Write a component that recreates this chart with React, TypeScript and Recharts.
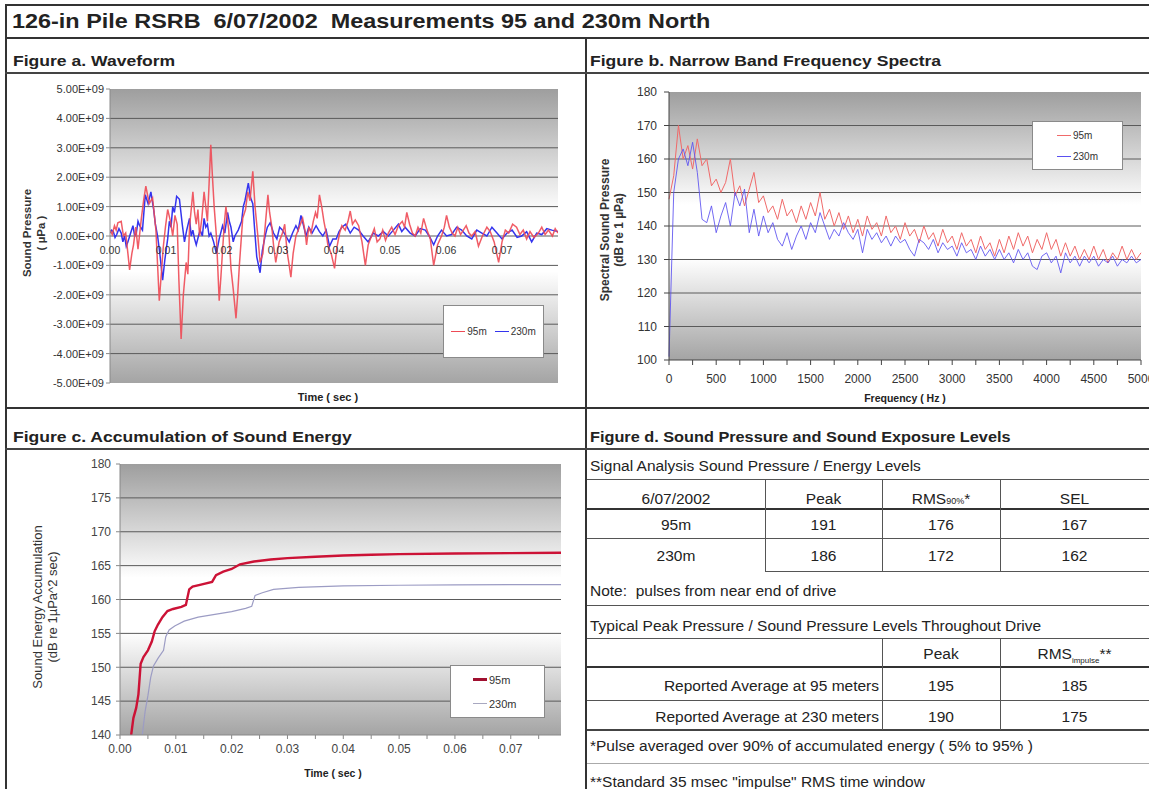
import React from 'react';
import { LineChart, Line, XAxis, YAxis, CartesianGrid, ReferenceDot } from 'recharts';

const FONT = '"Liberation Sans", Arial, Helvetica, sans-serif';

// Figure a. Waveform — [time ms, sound pressure x 1E+09 µPa]
const WAVE_95M: [number, number][] = [
  [0, 0.2], [0.4, 0.05], [0.8, 0.35], [1.1, 0.2], [1.4, 0.45], [2.0, 0.5], [2.4, 0.0], [2.8, 0.1],
  [3.2, -0.6], [3.5, -1.15], [3.9, -0.6], [4.2, -0.3], [4.6, 0.3], [5.0, -0.45], [5.6, 0.6], [6.0, 1.2],
  [6.4, 1.7], [7.0, 1.1], [7.6, 1.3], [8.2, 0.2], [8.5, -1.0], [8.8, -2.2], [9.2, -1.2], [9.5, -0.4],
  [9.9, 0.3], [10.3, 0.9], [10.8, 0.5], [11.2, 0.0], [11.6, 0.7], [12.0, 0.4], [12.3, -1.5], [12.7, -3.5],
  [13.1, -2.0], [13.6, -0.9], [13.9, -1.3], [14.2, 0.3], [14.8, 1.5], [15.1, 0.8], [15.4, 0.4], [15.7, 0.9],
  [16.0, 0.0], [16.4, 0.6], [16.8, 1.5], [17.4, 0.5], [17.7, 1.8], [18.0, 3.1], [18.3, 2.0], [18.6, 1.0],
  [19.0, 0.0], [19.5, -2.2], [19.8, -1.4], [20.1, -0.5], [20.4, 0.4], [20.7, 1.0], [21.2, 0.2], [21.6, -1.1],
  [22.0, -1.8], [22.5, -2.8], [22.8, -2.0], [23.1, -1.0], [23.4, -0.2], [23.7, 0.6], [24.2, 0.9], [24.6, 1.5],
  [25.0, 1.2], [25.5, 2.2], [25.9, 1.0], [26.4, 0.0], [26.8, -0.9], [27.3, -0.6], [27.7, 0.3], [28.2, 1.4],
  [28.5, 0.8], [28.9, 0.3], [29.2, -0.3], [29.6, -0.9], [30.2, -0.2], [30.8, 0.1], [31.2, 0.4], [31.6, -0.5],
  [32.0, -1.0], [32.3, -1.4], [32.7, -0.6], [33.2, 0.0], [33.8, 0.3], [34.4, 0.6], [34.8, 0.2], [35.1, -0.3],
  [35.5, 0.3], [35.9, 0.1], [36.3, 0.5], [36.7, 0.8], [37.0, 0.6], [37.4, 1.4], [37.8, 1.0], [38.2, 0.5],
  [38.6, 0.1], [38.9, -0.3], [39.5, -0.6], [40.1, -1.1], [40.5, -0.4], [41.0, 0.1], [41.4, 0.35], [42.0, 0.2],
  [42.5, 0.5], [42.9, 0.85], [43.3, 0.4], [43.8, 0.55], [44.4, 0.35], [45.0, -0.2], [45.6, -1.0], [46.1, -0.3],
  [46.7, 0.0], [47.2, 0.25], [47.7, -0.2], [48.2, -0.1], [48.7, 0.2], [49.2, -0.15], [49.7, 0.1], [50.3, 0.3],
  [50.9, 0.05], [51.5, 0.35], [52.2, 0.5], [52.6, 0.3], [53.0, 0.8], [53.5, 0.4], [54.0, 0.1], [54.5, 0.0],
  [55.0, 0.3], [55.5, 0.1], [56.0, 0.6], [56.6, 0.2], [57.2, -0.1], [57.8, -1.0], [58.5, -0.3], [59.2, 0.0],
  [59.7, 0.3], [60.1, 0.7], [60.6, 0.3], [61.1, 0.1], [61.6, 0.0], [62.1, 0.3], [62.6, 0.05], [63.1, 0.2],
  [63.6, 0.35], [64.1, 0.1], [64.6, 0.0], [65.2, 0.15], [65.8, -0.35], [66.5, 0.0], [67.3, 0.3], [67.9, 0.15],
  [68.6, -0.2], [69.4, -0.9], [70.0, -0.2], [70.6, 0.2], [71.2, 0.1], [71.9, 0.4], [72.6, 0.3], [73.2, 0.05],
  [73.8, 0.2], [74.4, -0.1], [75.0, 0.15], [75.7, -0.05], [76.5, 0.1], [77.1, 0.3], [77.7, 0.05], [78.3, 0.2],
  [79.0, 0.0], [79.5, 0.25], [80.0, 0.1],
];
const WAVE_230M: [number, number][] = [
  [0, 0.1], [0.3, 0.2], [0.6, 0.15], [0.9, -0.05], [1.2, 0.05], [1.6, 0.25], [2.0, 0.1], [2.3, -0.2],
  [2.6, 0.0], [2.9, -0.35], [3.2, -0.2], [3.6, 0.05], [4.1, 0.35], [4.4, 0.0], [4.7, 0.1], [5.0, 0.5],
  [5.3, 0.35], [5.8, 0.2], [6.3, 1.4], [6.8, 1.1], [7.3, 1.5], [7.8, 0.9], [8.1, 0.4], [8.5, 0.0],
  [8.9, -0.6], [9.4, -1.5], [9.8, -0.8], [10.3, -0.1], [10.6, 0.5], [10.9, 0.3], [11.2, 1.0], [11.5, 0.8],
  [11.9, 1.35], [12.4, 1.25], [12.9, 0.4], [13.3, -0.2], [13.7, 0.2], [14.2, 0.6], [14.5, 0.0], [14.8, 0.2],
  [15.1, -0.1], [15.4, -0.3], [15.8, 0.0], [16.1, 0.2], [16.5, 0.0], [16.8, 0.6], [17.1, 0.3], [17.4, 0.4],
  [17.7, 0.0], [18.0, 0.1], [18.5, -0.2], [19.0, -0.6], [19.5, -0.1], [20.1, 0.35], [20.5, 0.1], [21.0, 0.8],
  [21.3, 0.5], [21.6, 0.3], [22.0, -0.2], [22.3, 0.0], [22.9, 0.2], [23.5, 0.5], [23.8, 1.0], [24.1, 1.2],
  [24.4, 1.5], [24.7, 1.8], [25.1, 1.3], [25.5, 1.1], [25.8, 0.3], [26.2, -0.7], [26.8, -1.25], [27.2, -0.5],
  [27.7, 0.0], [28.1, 0.3], [28.6, 0.45], [29.2, 0.1], [29.8, -0.1], [30.3, 0.3], [30.8, 0.2], [31.4, 0.0],
  [32.0, -0.2], [32.6, 0.1], [33.2, 0.35], [33.6, 0.2], [34.1, 0.7], [34.5, 0.4], [35.0, 0.0], [35.5, 0.3],
  [36.1, 0.1], [36.8, 0.35], [37.4, 0.15], [38.0, 0.0], [38.6, 0.2], [39.2, -0.35], [39.8, -0.1], [40.4, -0.1],
  [40.9, 0.15], [41.4, 0.3], [42.1, 0.4], [42.9, 0.1], [43.6, 0.3], [44.4, 0.2], [45.2, 0.0], [46.1, -0.2],
  [47.0, 0.1], [47.9, 0.0], [48.8, 0.15], [49.7, 0.0], [50.6, 0.2], [51.5, 0.4], [52.1, 0.15], [52.7, 0.3],
  [53.6, 0.1], [54.5, 0.0], [55.4, 0.25], [56.3, 0.2], [57.0, 0.0], [57.8, -0.3], [58.5, 0.0], [59.2, 0.2],
  [60.1, 0.0], [61.0, 0.05], [61.9, 0.3], [62.8, 0.2], [63.7, 0.0], [64.6, -0.1], [65.5, 0.2], [66.4, 0.1],
  [67.3, 0.0], [68.2, 0.3], [69.1, 0.1], [70.0, -0.1], [70.9, 0.1], [71.8, 0.2], [72.7, -0.05], [73.5, 0.0],
  [74.4, 0.15], [75.3, -0.2], [76.2, 0.1], [77.1, 0.05], [78.0, 0.25], [78.9, 0.2], [80.0, 0.15],
];
const WAVE_X_TICKS = [0, 0.01, 0.02, 0.03, 0.04, 0.05, 0.06, 0.07];
const WAVE_Y_TICKS = [-5, -4, -3, -2, -1, 0, 1, 2, 3, 4, 5];

// Figure b. Narrow band spectra — dB re 1 µPa
const FREQ_HZ = [
  0, 50, 100, 150, 200, 250, 300, 350, 400, 450,
  500, 550, 600, 650, 700, 750, 800, 850, 900, 950,
  1000, 1050, 1100, 1150, 1200, 1250, 1300, 1350, 1400, 1450,
  1500, 1550, 1600, 1650, 1700, 1750, 1800, 1850, 1900, 1950,
  2000, 2050, 2100, 2150, 2200, 2250, 2300, 2350, 2400, 2450,
  2500, 2550, 2600, 2650, 2700, 2750, 2800, 2850, 2900, 2950,
  3000, 3050, 3100, 3150, 3200, 3250, 3300, 3350, 3400, 3450,
  3500, 3550, 3600, 3650, 3700, 3750, 3800, 3850, 3900, 3950,
  4000, 4050, 4100, 4150, 4200, 4250, 4300, 4350, 4400, 4450,
  4500, 4550, 4600, 4650, 4700, 4750, 4800, 4850, 4900, 4950,
  5000,
];
const SPEC_95M = [
  148, 155, 170, 160, 164, 157, 166, 158, 160, 152,
  154, 150, 153, 160, 149, 152, 146, 151, 156, 147,
  149, 144, 146, 142, 148, 143, 145, 141, 146, 142,
  147, 143, 150, 142, 145, 140, 144, 139, 143, 138,
  142, 137, 143, 139, 141, 137, 143, 138, 140, 136,
  141, 137, 139, 135, 140, 136, 138, 134, 139, 135,
  137, 133, 138, 134, 136, 132, 137, 133, 135, 131,
  136, 132, 137, 133, 138, 134, 137, 132, 136, 133,
  138, 133, 136, 131, 135, 131, 134, 130, 133, 130,
  134, 130, 133, 129, 132, 130, 134, 130, 133, 130,
  132,
];
const SPEC_230M = [
  101, 150, 160, 163, 158, 165, 156, 142, 141, 146,
  138, 143, 147, 140, 150, 146, 151, 138, 145, 137,
  143, 138, 141, 136, 134, 138, 133, 137, 140, 136,
  141, 138, 144, 140, 136, 139, 137, 141, 138, 136,
  139, 132, 139, 136, 138, 135, 137, 134, 137, 135,
  136, 133, 131, 136, 135, 133, 136, 132, 135, 133,
  134, 131, 135, 132, 133, 130, 134, 131, 133, 130,
  133, 130, 132, 129, 133, 130, 132, 128, 127, 131,
  132, 129, 131, 126, 132, 129, 131, 128, 131, 129,
  131, 128, 130, 129, 131, 128, 130, 129, 131, 129,
  130,
];
const FREQ_TICKS = [0, 250, 500, 750, 1000, 1250, 1500, 1750, 2000, 2250, 2500, 2750, 3000, 3250, 3500, 3750, 4000, 4250, 4500, 4750, 5000];
const SPEC_Y_TICKS = [100, 110, 120, 130, 140, 150, 160, 170, 180];

// Figure c. Accumulated sound energy — [time sec, dB re 1µPa^2 sec]
const ENERGY_95M: [number, number][] = [
  [0.002, 140], [0.0024, 142.5], [0.0029, 144], [0.0033, 146], [0.0037, 150.5], [0.0042, 151.5],
  [0.005, 152.5], [0.0057, 153.8], [0.0062, 155.3], [0.0068, 156.3], [0.0076, 157.4], [0.0085, 158.3],
  [0.0095, 158.6], [0.011, 158.9], [0.0118, 159.2], [0.0124, 161.5], [0.013, 161.9], [0.0145, 162.2],
  [0.0165, 162.6], [0.0172, 163.6], [0.0185, 164.1], [0.02, 164.5], [0.0215, 165.2], [0.024, 165.6],
  [0.027, 165.9], [0.03, 166.1], [0.035, 166.3], [0.04, 166.5], [0.045, 166.6], [0.05, 166.7],
  [0.06, 166.8], [0.07, 166.85], [0.079, 166.9],
];
const ENERGY_230M: [number, number][] = [
  [0.004, 140], [0.0045, 143.5], [0.005, 145.8], [0.0055, 148.5], [0.006, 150.2], [0.0068, 151.3],
  [0.0078, 152.5], [0.0082, 154.5], [0.0088, 155.5], [0.0098, 156.1], [0.0115, 156.8], [0.014, 157.4],
  [0.017, 157.8], [0.02, 158.2], [0.0225, 158.7], [0.0236, 159.0], [0.0242, 160.6], [0.0255, 161.0],
  [0.0275, 161.5], [0.032, 161.8], [0.04, 162.0], [0.05, 162.1], [0.06, 162.15], [0.07, 162.2],
  [0.079, 162.2],
];
const ENERGY_X_TICKS = [0, 0.005, 0.01, 0.015, 0.02, 0.025, 0.03, 0.035, 0.04, 0.045, 0.05, 0.055, 0.06, 0.065, 0.07, 0.075];
const ENERGY_Y_TICKS = [140, 145, 150, 155, 160, 165, 170, 175, 180];

// Figure d. tables
const TABLE1_HEAD = ['6/07/2002', 'Peak', 'RMS', 'SEL'];
const TABLE1_ROWS = [
  ['95m', '191', '176', '167'],
  ['230m', '186', '172', '162'],
];
const TABLE2_ROWS = [
  ['Reported Average at 95 meters', '195', '185'],
  ['Reported Average at 230 meters', '190', '175'],
];

const wave95 = WAVE_95M.map(([ms, v]) => ({ t: ms / 1000, v }));
const wave230 = WAVE_230M.map(([ms, v]) => ({ t: ms / 1000, v }));
const specData = FREQ_HZ.map((f, i) => ({ f, a: SPEC_95M[i], b: SPEC_230M[i] }));
const energy95 = ENERGY_95M.map(([t, v]) => ({ t, v }));
const energy230 = ENERGY_230M.map(([t, v]) => ({ t, v }));

const fmtE9 = (v: number) => (v === 0 ? '0.00E+00' : `${v.toFixed(2)}E+09`);

const T1_COLS = [[587, 765], [765, 882], [882, 1000], [1000, 1149]];

const Rule = ({ x, y, w, h, c = '#333' }: { x: number; y: number; w: number; h: number; c?: string }) => (
  <div style={{ position: 'absolute', left: x, top: y, width: w, height: h, background: c }} />
);

const Txt = ({ x, y, w, align = 'left', size = 15.5, bold = false, sx = 1, children }: any) => (
  <div
    style={{
      position: 'absolute', left: x, top: y - 10, width: w, height: 20, lineHeight: '20px',
      fontSize: size, fontWeight: bold ? 700 : 400, textAlign: align, whiteSpace: 'nowrap', color: '#222',
      transform: sx !== 1 ? `scaleX(${sx})` : undefined, transformOrigin: 'left center',
    }}
  >
    {children}
  </div>
);

const VTitle = ({ x, y, size, bold, lines }: { x: number; y: number; size: number; bold?: boolean; lines: string[] }) => (
  <div
    style={{
      position: 'absolute', left: x, top: y, transform: 'translate(-50%, -50%) rotate(-90deg)',
      fontSize: size, fontWeight: bold ? 700 : 400, textAlign: 'center', whiteSpace: 'nowrap',
      lineHeight: `${size + 2}px`, color: '#333',
    }}
  >
    {lines.map((l) => (
      <div key={l}>{l}</div>
    ))}
  </div>
);

const LegendItem = ({ color, width, label, size }: { color: string; width: number; label: string; size: number }) => (
  <span style={{ display: 'inline-flex', alignItems: 'center', fontSize: size, color: '#333' }}>
    <span style={{ display: 'inline-block', width: 14, height: width, background: color, marginRight: 2 }} />
    {label}
  </span>
);

const legendBox: React.CSSProperties = {
  position: 'absolute', background: '#fff', border: '1px solid #8a8a8a', boxSizing: 'border-box',
  display: 'flex', alignItems: 'center', justifyContent: 'center',
};

export default function App() {
  return (
    <div
      style={{
        position: 'absolute', left: 0, top: 0, width: 1149, height: 789, background: '#fff',
        overflow: 'hidden', fontFamily: FONT, color: '#222',
      }}
    >
      <svg width={0} height={0} style={{ position: 'absolute' }}>
        <defs>
          <linearGradient id="plotBg" x1="0" y1="0" x2="0" y2="1">
            <stop offset="0" stopColor="#9e9e9e" />
            <stop offset="0.42" stopColor="#ffffff" />
            <stop offset="0.62" stopColor="#ffffff" />
            <stop offset="1" stopColor="#a4a4a4" />
          </linearGradient>
        </defs>
      </svg>

      {/* frame */}
      <Rule x={5} y={4} w={1144} h={2} />
      <Rule x={5} y={4} w={2} h={785} />
      <Rule x={5} y={37} w={1144} h={2} />
      <Rule x={585} y={38} w={2} h={751} />
      <Rule x={5} y={72} w={1144} h={1.5} c="#444" />
      <Rule x={5} y={407} w={1144} h={2} />
      <Rule x={5} y={448} w={1144} h={1.5} c="#444" />

      <Txt x={12} y={21} w={700} size={20} bold sx={1.17}>
        126-in Pile RSRB&nbsp; 6/07/2002&nbsp; Measurements 95 and 230m North
      </Txt>
      <Txt x={13} y={61} w={400} size={15} bold sx={1.17}>Figure a. Waveform</Txt>
      <Txt x={590} y={61} w={480} size={15} bold sx={1.17}>Figure b. Narrow Band Frequency Spectra</Txt>
      <Txt x={13} y={437} w={480} size={15} bold sx={1.17}>Figure c. Accumulation of Sound Energy</Txt>
      <Txt x={590} y={437} w={500} size={15} bold sx={1.085}>Figure d. Sound Pressure and Sound Exposure Levels</Txt>

      {/* Figure a */}
      <div style={{ position: 'absolute', left: 0, top: 75 }}>
        <LineChart width={585} height={333} margin={{ top: 14, right: 27, bottom: 25, left: 0 }}>
          <CartesianGrid vertical={false} horizontalValues={[-4, -3, -2, -1, 0, 1, 2, 3, 4]} stroke="#5a5a5a" fill="url(#plotBg)" />
          <XAxis type="number" dataKey="t" domain={[0, 0.08]} hide allowDataOverflow />
          <YAxis
            type="number" domain={[-5, 5]} ticks={WAVE_Y_TICKS} interval={0} width={110}
            tickFormatter={fmtE9} tick={{ fontSize: 11, fill: '#333' }} tickSize={4}
            axisLine={{ stroke: '#8a8a8a' }} tickLine={{ stroke: '#8a8a8a' }}
          />
          <Line data={wave230} dataKey="v" type="linear" stroke="#3434ee" strokeWidth={1.5} dot={false} isAnimationActive={false} />
          <Line data={wave95} dataKey="v" type="linear" stroke="#ee4a55" strokeWidth={1.5} strokeOpacity={0.9} dot={false} isAnimationActive={false} />
          {WAVE_X_TICKS.map((t) => (
            <ReferenceDot
              key={t} x={t} y={0} r={0} fill="none" stroke="none"
              label={{ value: t.toFixed(2), position: 'bottom', offset: 11, fontSize: 10.5, fill: '#333' }}
            />
          ))}
        </LineChart>
      </div>
      <VTitle x={34} y={233} size={11.5} bold lines={['Sound Pressure', '( µPa )']} />
      <Txt x={228} y={397} w={200} align="center" size={11} bold>Time ( sec )</Txt>
      <div style={{ ...legendBox, left: 443, top: 305, width: 101, height: 53, gap: 8 }}>
        <LegendItem color="#ee4a55" width={1} label="95m" size={10} />
        <LegendItem color="#3434ee" width={1} label="230m" size={10} />
      </div>

      {/* Figure b */}
      <div style={{ position: 'absolute', left: 587, top: 75 }}>
        <LineChart width={562} height={333} data={specData} margin={{ top: 17, right: 8, bottom: 18, left: 0 }}>
          <CartesianGrid vertical={false} horizontalValues={[110, 120, 130, 140, 150, 160, 170]} stroke="#5a5a5a" fill="url(#plotBg)" />
          <XAxis
            type="number" dataKey="f" domain={[0, 5000]} ticks={FREQ_TICKS} interval={0} height={30}
            tickFormatter={(v: number) => (v % 500 === 0 ? String(v) : '')}
            tick={{ fontSize: 12, fill: '#333' }} tickSize={5} tickMargin={9}
            axisLine={{ stroke: '#444' }} tickLine={{ stroke: '#444' }}
          />
          <YAxis
            type="number" domain={[100, 180]} ticks={SPEC_Y_TICKS} interval={0} width={82}
            tick={{ fontSize: 12, fill: '#333' }} tickSize={5} tickMargin={7}
            axisLine={{ stroke: '#444' }} tickLine={{ stroke: '#444' }}
          />
          <Line dataKey="a" type="linear" stroke="#f06a6a" strokeWidth={1} dot={false} isAnimationActive={false} />
          <Line dataKey="b" type="linear" stroke="#5a50f0" strokeWidth={1} strokeOpacity={0.85} dot={false} isAnimationActive={false} />
        </LineChart>
      </div>
      <VTitle x={612} y={230} size={12} bold lines={['Spectral Sound Pressure', '(dB re 1 µPa)']} />
      <Txt x={805} y={398} w={200} align="center" size={10.5} bold>Frequency ( Hz )</Txt>
      <div style={{ ...legendBox, left: 1032, top: 121, width: 91, height: 49, flexDirection: 'column', gap: 10, alignItems: 'flex-start', paddingLeft: 24 }}>
        <LegendItem color="#f06a6a" width={1} label="95m" size={10} />
        <LegendItem color="#5a50f0" width={1} label="230m" size={10} />
      </div>

      {/* Figure c */}
      <div style={{ position: 'absolute', left: 0, top: 450 }}>
        <LineChart width={585} height={339} margin={{ top: 14, right: 24, bottom: 24, left: 0 }}>
          <CartesianGrid vertical={false} horizontalValues={[145, 150, 155, 160, 165, 170, 175]} stroke="#5a5a5a" fill="url(#plotBg)" />
          <XAxis
            type="number" dataKey="t" domain={[0, 0.079]} ticks={ENERGY_X_TICKS} interval={0} height={30}
            tickFormatter={(v: number) => (Math.round(v * 1000) % 10 === 0 ? v.toFixed(2) : '')}
            tick={{ fontSize: 12, fill: '#444' }} tickSize={4} tickMargin={5}
            axisLine={{ stroke: '#888' }} tickLine={{ stroke: '#888' }} allowDataOverflow
          />
          <YAxis
            type="number" domain={[140, 180]} ticks={ENERGY_Y_TICKS} interval={0} width={120}
            tick={{ fontSize: 12, fill: '#444' }} tickSize={4} tickMargin={5}
            axisLine={{ stroke: '#888' }} tickLine={{ stroke: '#888' }} allowDataOverflow
          />
          <Line data={energy230} dataKey="v" type="linear" stroke="#9c9cc4" strokeWidth={1.2} dot={false} isAnimationActive={false} />
          <Line data={energy95} dataKey="v" type="linear" stroke="#cc1236" strokeWidth={2.4} dot={false} isAnimationActive={false} />
        </LineChart>
      </div>
      <VTitle x={45} y={607} size={13} lines={['Sound Energy Accumulation', '(dB re 1µPa^2 sec)']} />
      <Txt x={233} y={773} w={200} align="center" size={10.5} bold>Time ( sec )</Txt>
      <div style={{ ...legendBox, left: 450, top: 665, width: 95, height: 53, flexDirection: 'column', gap: 12, alignItems: 'flex-start', paddingLeft: 22 }}>
        <LegendItem color="#a01030" width={3} label="95m" size={11} />
        <LegendItem color="#a8a8c0" width={1} label="230m" size={11} />
      </div>

      {/* Figure d */}
      <Txt x={590} y={466} w={550}>Signal Analysis Sound Pressure / Energy Levels</Txt>
      <Rule x={587} y={479} w={562} h={1} c="#555" />
      {TABLE1_HEAD.map((h, i) => (
        <Txt key={h} x={T1_COLS[i][0]} y={499} w={T1_COLS[i][1] - T1_COLS[i][0]} align="center">
          {h}
          {h === 'RMS' ? (
            <>
              <span style={{ fontSize: 9 }}>90%</span>*
            </>
          ) : null}
        </Txt>
      ))}
      <Rule x={587} y={508} w={562} h={2} c="#333" />
      {TABLE1_ROWS.map((row, r) =>
        row.map((cell, i) => (
          <Txt key={`${r}-${i}`} x={T1_COLS[i][0]} y={525 + r * 31} w={T1_COLS[i][1] - T1_COLS[i][0]} align="center">
            {cell}
          </Txt>
        )),
      )}
      <Rule x={587} y={538} w={562} h={1} c="#555" />
      <Rule x={765} y={571} w={384} h={1} c="#555" />
      <Rule x={765} y={479} w={1} h={93} c="#555" />
      <Rule x={882} y={479} w={1} h={93} c="#555" />
      <Rule x={1000} y={479} w={1} h={93} c="#555" />
      <Txt x={590} y={591} w={550}>Note:&nbsp; pulses from near end of drive</Txt>
      <Rule x={587} y={605} w={562} h={1} c="#555" />
      <Txt x={590} y={626} w={550}>Typical Peak Pressure / Sound Pressure Levels Throughout Drive</Txt>
      <Rule x={587} y={638} w={562} h={1} c="#555" />
      <Txt x={882} y={654} w={118} align="center">Peak</Txt>
      <Txt x={1000} y={654} w={149} align="center">
        RMS<span style={{ fontSize: 8, verticalAlign: 'sub' }}>impulse</span>**
      </Txt>
      <Rule x={587} y={666} w={562} h={2} c="#333" />
      {TABLE2_ROWS.map((row, r) => (
        <React.Fragment key={row[0]}>
          <Txt x={587} y={686 + r * 31} w={292} align="right">{row[0]}</Txt>
          <Txt x={882} y={686 + r * 31} w={118} align="center">{row[1]}</Txt>
          <Txt x={1000} y={686 + r * 31} w={149} align="center">{row[2]}</Txt>
        </React.Fragment>
      ))}
      <Rule x={587} y={700} w={562} h={1} c="#555" />
      <Rule x={587} y={729} w={562} h={2} c="#444" />
      <Rule x={882} y={638} w={1} h={92} c="#555" />
      <Rule x={1000} y={638} w={1} h={92} c="#555" />
      <Txt x={590} y={746} w={550}>*Pulse averaged over 90% of accumulated energy ( 5% to 95% )</Txt>
      <Rule x={587} y={763} w={562} h={1} c="#aaa" />
      <Txt x={590} y={782} w={550}>**Standard 35 msec "impulse" RMS time window</Txt>
    </div>
  );
}
